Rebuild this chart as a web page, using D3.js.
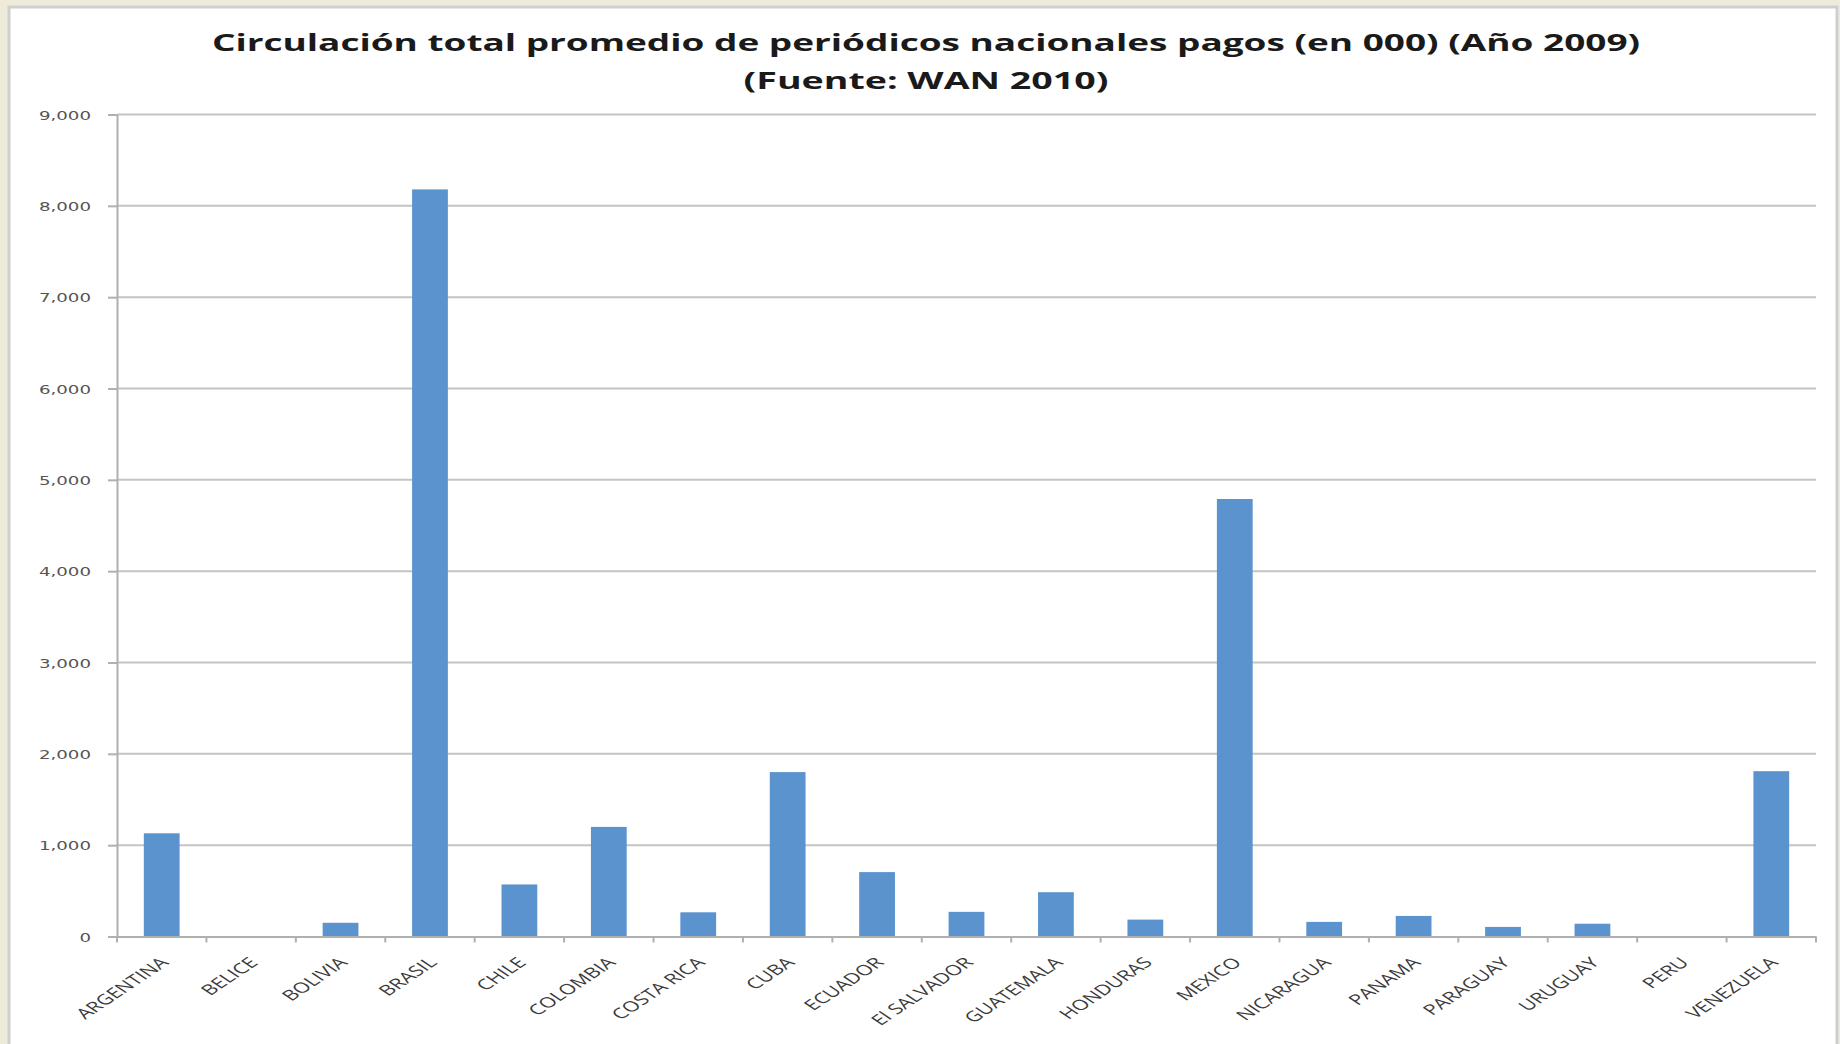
<!DOCTYPE html>
<html>
<head>
<meta charset="utf-8">
<script src="https://cdn.jsdelivr.net/npm/d3@7"></script>
<style>
  html, body { margin: 0; padding: 0; background: #EEEBDA; }
  svg { display: block; }
</style>
</head>
<body>
<svg id="chart" width="1840" height="1044"></svg>
<script>
const categories = ["ARGENTINA","BELICE","BOLIVIA","BRASIL","CHILE","COLOMBIA","COSTA RICA","CUBA","ECUADOR","El SALVADOR","GUATEMALA","HONDURAS","MEXICO","NICARAGUA","PANAMA","PARAGUAY","URUGUAY","PERU","VENEZUELA"];
const values = [1130, 0, 150, 8180, 570, 1200, 265, 1800, 705, 270, 485, 185, 4790, 160, 225, 105, 140, 0, 1810];
const yTicks = [0, 1000, 2000, 3000, 4000, 5000, 6000, 7000, 8000, 9000];
const titleLines = ["Circulación total promedio de periódicos nacionales pagos (en 000) (Año 2009)", "(Fuente: WAN 2010)"];

(function () {
const svg = d3.select("#chart");
const W = 1840, H = 1044;

svg.append("rect").attr("x", 0).attr("y", 0).attr("width", W).attr("height", H).attr("fill", "#EEEBDA");
svg.append("rect").attr("x", 9).attr("y", 7).attr("width", 1828).attr("height", 1045)
  .attr("fill", "#ffffff").attr("stroke", "#cfcfcf").attr("stroke-width", 3);

const pLeft = 117, pRight = 1816, pTop = 114.5, pBottom = 936.5;

const x = d3.scaleBand().domain(categories).range([pLeft, pRight]).paddingInner(0.6).paddingOuter(0.3);
const y = d3.scaleLinear().domain([0, 9000]).range([pBottom, pTop]);

svg.append("g").selectAll("line").data(yTicks.filter(d => d > 0)).join("line")
  .attr("x1", pLeft).attr("x2", pRight)
  .attr("y1", d => y(d)).attr("y2", d => y(d))
  .attr("stroke", "#c4c4c4").attr("stroke-width", 2);

const sxY = 1.4;
const yAxis = svg.append("g").attr("transform", `translate(${pLeft},0)`)
  .call(d3.axisLeft(y).tickValues(yTicks).tickFormat(d3.format(",")).tickSize(9).tickSizeOuter(0));
yAxis.select(".domain").attr("stroke", "#b0b0b0").attr("stroke-width", 2);
yAxis.selectAll(".tick line").attr("stroke", "#b0b0b0").attr("stroke-width", 2);
yAxis.selectAll(".tick text")
  .attr("font-family", "DejaVu Sans").attr("font-size", 13).attr("fill", "#555555")
  .attr("x", null).attr("dy", "0.36em")
  .attr("transform", `translate(-26,0) scale(${sxY},1)`);

svg.append("g").selectAll("rect").data(categories).join("rect")
  .attr("x", d => x(d)).attr("width", x.bandwidth())
  .attr("y", (d, i) => y(values[i])).attr("height", (d, i) => y(0) - y(values[i]))
  .attr("fill", "#5A93CD");

const xAxis = svg.append("g").attr("transform", `translate(0,${pBottom})`)
  .call(d3.axisBottom(x).tickSize(0).tickSizeOuter(0));
xAxis.select(".domain").attr("stroke", "#b0b0b0").attr("stroke-width", 2);
const step = x.step();
const bounds = categories.map(d => x(d) - (step - x.bandwidth()) / 2).concat([pRight]);
xAxis.append("g").selectAll("line").data(bounds).join("line")
  .attr("x1", d => d).attr("x2", d => d).attr("y1", 0).attr("y2", 6)
  .attr("stroke", "#b0b0b0").attr("stroke-width", 2);
xAxis.selectAll(".tick text")
  .attr("font-family", "Open Sans").attr("font-size", 14.5).attr("fill", "#3a3a3a")
  .attr("text-anchor", "end").attr("y", null).attr("dy", null)
  .attr("transform", "translate(8,27) scale(1.5,1) rotate(-45)");

const titleCfg = [{cy: 51, w: 1429}, {cy: 89, w: 365}];
titleLines.forEach((t, i) => {
  const el = svg.append("text")
    .attr("font-family", "Open Sans").attr("font-weight", 700).attr("font-size", 24)
    .attr("fill", "#1a1a1a").attr("text-anchor", "middle")
    .text(t);
  const wMeas = el.node().getComputedTextLength();
  const s = titleCfg[i].w / wMeas;
  el.attr("transform", `translate(926,${titleCfg[i].cy}) scale(${s},1)`);
});
})();
</script>
</body>
</html>
